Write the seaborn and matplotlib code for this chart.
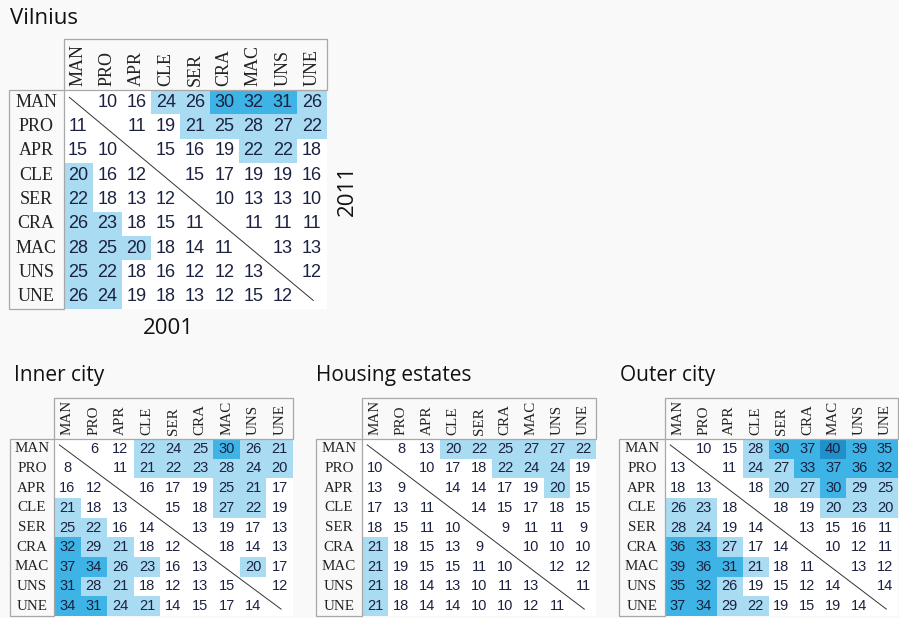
import numpy as np
import pandas as pd
import matplotlib
matplotlib.use("Agg")
import matplotlib.pyplot as plt
import seaborn as sns
from matplotlib.colors import ListedColormap, BoundaryNorm
from matplotlib.patches import Rectangle

categories = ["MAN", "PRO", "APR", "CLE", "SER", "CRA", "MAC", "UNS", "UNE"]
N = None
# upper triangle = 2011, lower triangle = 2001
vilnius = [
    [N, 10, 16, 24, 26, 30, 32, 31, 26],
    [11, N, 11, 19, 21, 25, 28, 27, 22],
    [15, 10, N, 15, 16, 19, 22, 22, 18],
    [20, 16, 12, N, 15, 17, 19, 19, 16],
    [22, 18, 13, 12, N, 10, 13, 13, 10],
    [26, 23, 18, 15, 11, N, 11, 11, 11],
    [28, 25, 20, 18, 14, 11, N, 13, 13],
    [25, 22, 18, 16, 12, 12, 13, N, 12],
    [26, 24, 19, 18, 13, 12, 15, 12, N],
]
inner_city = [
    [N, 6, 12, 22, 24, 25, 30, 26, 21],
    [8, N, 11, 21, 22, 23, 28, 24, 20],
    [16, 12, N, 16, 17, 19, 25, 21, 17],
    [21, 18, 13, N, 15, 18, 27, 22, 19],
    [25, 22, 16, 14, N, 13, 19, 17, 13],
    [32, 29, 21, 18, 12, N, 18, 14, 13],
    [37, 34, 26, 23, 16, 13, N, 20, 17],
    [31, 28, 21, 18, 12, 13, 15, N, 12],
    [34, 31, 24, 21, 14, 15, 17, 14, N],
]
housing_estates = [
    [N, 8, 13, 20, 22, 25, 27, 27, 22],
    [10, N, 10, 17, 18, 22, 24, 24, 19],
    [13, 9, N, 14, 14, 17, 19, 20, 15],
    [17, 13, 11, N, 14, 15, 17, 18, 15],
    [18, 15, 11, 10, N, 9, 11, 11, 9],
    [21, 18, 15, 13, 9, N, 10, 10, 10],
    [21, 19, 15, 15, 11, 10, N, 12, 12],
    [21, 18, 14, 13, 10, 11, 13, N, 11],
    [21, 18, 14, 14, 10, 10, 12, 11, N],
]
outer_city = [
    [N, 10, 15, 28, 30, 37, 40, 39, 35],
    [13, N, 11, 24, 27, 33, 37, 36, 32],
    [18, 13, N, 18, 20, 27, 30, 29, 25],
    [26, 23, 18, N, 18, 19, 20, 23, 20],
    [28, 24, 19, 14, N, 13, 15, 16, 11],
    [36, 33, 27, 17, 14, N, 10, 12, 11],
    [39, 36, 31, 21, 18, 11, N, 13, 12],
    [35, 32, 26, 19, 15, 12, 14, N, 14],
    [37, 34, 29, 22, 19, 15, 19, 14, N],
]
bins = [0, 20, 30, 40, 100]
bin_colors = ["#ffffff", "#a9dbf2", "#3db4e5", "#1f90ca"]

cmap = ListedColormap(bin_colors)
norm = BoundaryNorm(bins, cmap.N)

W, H = 899, 618
fig = plt.figure(figsize=(W / 100, H / 100), dpi=100, facecolor="#f9f9f9")

NUM_COLOR = "#1b2140"
BOX_COLOR = "#a8a8a8"


def fig_rect(x0, y0, x1, y1):
    r = Rectangle((x0 / W, 1 - y1 / H), (x1 - x0) / W, (y1 - y0) / H,
                  transform=fig.transFigure, fill=False, ec=BOX_COLOR, lw=0.9,
                  zorder=5)
    fig.add_artist(r)


def panel(data, cells, label_left, header_top, num_size, lab_size, head_pad):
    left, top, right, bottom = cells
    ax = fig.add_axes([left / W, 1 - bottom / H, (right - left) / W, (bottom - top) / H])
    df = pd.DataFrame(np.array(data, dtype=float), index=categories, columns=categories)
    sns.heatmap(df, ax=ax, cmap=cmap, norm=norm, cbar=False, annot=True, fmt=".0f",
                annot_kws=dict(fontsize=num_size, color=NUM_COLOR,
                               family="Liberation Sans"))
    ax.set_facecolor("white")
    ax.xaxis.tick_top()
    ax.tick_params(length=0)
    ax.set_xticks(np.arange(len(categories)) + 0.5)
    ax.set_xticklabels(categories, rotation=90, fontfamily="Liberation Serif",
                       fontsize=lab_size, va="bottom", ha="center", color="#222")
    ax.tick_params(axis="x", pad=head_pad * 0.72)
    ax.set_yticks(np.arange(len(categories)) + 0.5)
    ax.set_yticklabels(categories, rotation=0, fontfamily="Liberation Serif",
                       fontsize=lab_size, ha="center", va="center", color="#222")
    center = (label_left + left) / 2
    ax.tick_params(axis="y", pad=(left - center) * 0.72)
    ax.set_xlabel("")
    ax.set_ylabel("")
    n = len(categories)
    ax.plot([0.2, n - 0.45], [0.3, n - 0.35], color="#333333", lw=0.7)
    fig_rect(left, header_top, right, top)
    fig_rect(label_left, top, left, bottom)
    return ax


panel(vilnius, (63.5, 90, 326.5, 309), 9, 39, 13, 13, 4)
panel(inner_city, (54, 439, 293, 616), 10, 398, 10.5, 10.8, 4)
panel(housing_estates, (362, 439, 596, 616), 316, 398, 10.5, 10.8, 4)
panel(outer_city, (665, 439, 898, 616), 619, 398, 10.5, 10.8, 4)

TOP_FONT = dict(family="Open Sans", fontsize=16, color="#111")
BOTTOM_FONT = dict(family="Open Sans", fontsize=15, color="#111")
fig.text(10 / W, 1 - 18 / H, "Vilnius", va="center", ha="left", **TOP_FONT)
fig.text(14 / W, 1 - 376 / H, "Inner city", va="center", ha="left", **BOTTOM_FONT)
fig.text(316 / W, 1 - 376 / H, "Housing estates", va="center", ha="left", **BOTTOM_FONT)
fig.text(620 / W, 1 - 376 / H, "Outer city", va="center", ha="left", **BOTTOM_FONT)
fig.text(347 / W, 1 - 190 / H, "2011", va="center", ha="center", rotation=90, **TOP_FONT)
fig.text(168 / W, 1 - 329 / H, "2001", va="center", ha="center", **TOP_FONT)

fig.savefig("out.png", dpi=100, facecolor=fig.get_facecolor())
